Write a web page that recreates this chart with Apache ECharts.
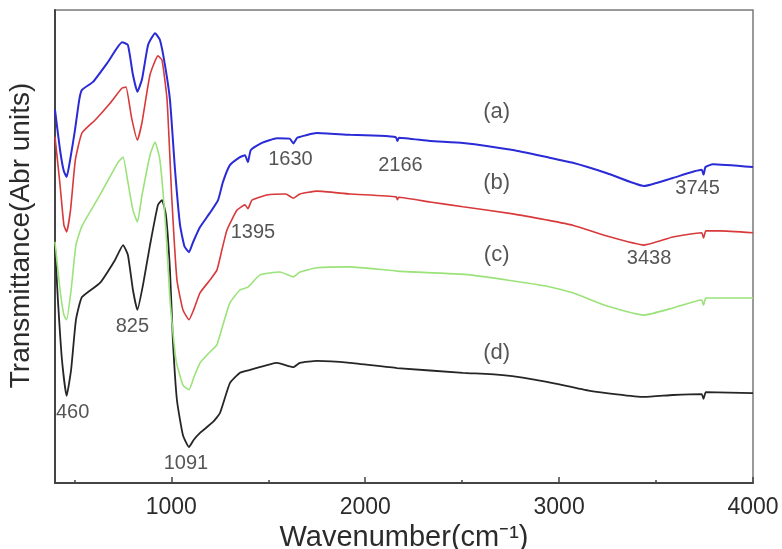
<!DOCTYPE html>
<html>
<head>
<meta charset="utf-8">
<title>FTIR spectra</title>
<script src="https://cdn.jsdelivr.net/npm/echarts@6/dist/echarts.min.js"></script>
<style>
  html, body { margin: 0; padding: 0; background: #fff; }
  #chart { width: 782px; height: 549px; }
</style>
</head>
<body>
<div id="chart"></div>
<script>
// Wavenumber (cm^-1) / transmittance (arbitrary units) pairs for each sample
const spectrumA = [[400,78.9],[426,70.4],[445,66.0],[460,64.7],[478,68.3],[503,74.6],[525,81.0],[539,83.1],[596,84.8],[673,89.0],[746,93.2],[776,92.6],[802,86.3],[825,82.7],[849,85.4],[880,92.6],[916,95.1],[941,93.7],[967,88.4],[993,81.0],[1019,66.2],[1045,54.5],[1068,50.0],[1091,48.8],[1112,50.9],[1148,54.1],[1199,57.1],[1241,59.8],[1266,63.6],[1302,67.2],[1354,68.9],[1380,69.3],[1395,67.8],[1410,70.4],[1467,71.9],[1545,72.9],[1610,72.8],[1630,71.8],[1650,73.0],[1751,74.0],[1921,73.6],[2076,73.4],[2158,73.1],[2166,72.3],[2174,73.0],[2334,72.3],[2504,71.9],[2762,70.4],[2937,68.9],[3071,67.7],[3247,65.5],[3438,62.8],[3587,64.5],[3735,66.2],[3745,65.2],[3755,66.8],[3793,67.4],[4000,66.8]];
const spectrumB = [[400,73.2],[426,63.0],[446,54.5],[460,53.1],[480,57.7],[505,68.3],[539,74.0],[606,76.7],[684,80.3],[746,83.5],[766,83.7],[795,77.2],[825,72.5],[849,76.3],[890,86.3],[931,90.3],[952,89.4],[978,81.0],[1003,59.8],[1029,42.9],[1060,36.6],[1091,34.5],[1115,36.6],[1148,40.2],[1199,42.9],[1235,45.0],[1261,49.3],[1287,53.5],[1339,57.7],[1380,58.8],[1395,58.0],[1416,59.8],[1493,60.9],[1590,61.1],[1630,60.2],[1663,61.1],[1751,61.7],[1921,61.1],[2160,60.5],[2166,59.9],[2172,60.4],[2334,59.4],[2504,58.4],[2762,56.9],[2937,55.6],[3071,54.5],[3247,52.2],[3438,50.3],[3587,52.0],[3735,52.9],[3745,51.8],[3757,53.3],[3829,53.3],[4000,52.9]];
const spectrumC = [[400,51.0],[426,40.8],[446,35.5],[460,34.5],[483,40.8],[508,50.3],[539,54.3],[632,60.9],[725,67.8],[751,68.9],[776,63.6],[802,57.7],[825,55.2],[849,60.9],[890,69.3],[916,72.1],[941,68.3],[972,53.5],[993,38.7],[1024,26.0],[1060,20.7],[1091,19.7],[1115,22.2],[1148,25.4],[1199,27.7],[1235,29.2],[1266,33.4],[1302,38.1],[1354,40.8],[1395,41.4],[1457,44.0],[1560,44.6],[1630,43.6],[1663,44.6],[1751,45.5],[1921,45.7],[2164,44.8],[2540,44.0],[2937,41.6],[3071,40.2],[3247,37.4],[3438,35.5],[3587,37.0],[3735,38.7],[3745,37.6],[3757,39.1],[4000,39.1]];
const spectrumD = [[400,50.1],[415,38.7],[436,26.0],[460,18.4],[483,23.9],[508,34.5],[539,39.3],[632,42.3],[709,47.1],[751,50.3],[776,48.2],[802,40.8],[825,36.6],[854,41.9],[890,50.3],[931,58.8],[952,59.8],[972,56.7],[993,45.0],[1008,30.2],[1029,17.5],[1060,10.1],[1091,7.6],[1115,9.1],[1148,10.6],[1215,12.9],[1251,14.8],[1302,21.1],[1354,23.3],[1406,23.9],[1545,25.4],[1630,24.5],[1663,25.4],[1751,25.8],[1921,25.4],[2164,24.3],[2504,23.3],[2710,22.8],[2937,21.4],[3159,19.5],[3438,18.2],[3587,18.6],[3735,18.8],[3745,17.8],[3757,19.2],[4000,19.0]];

const sampleNames = ['(a)', '(b)', '(c)', '(d)'];
const xTickValues = [1000, 2000, 3000, 4000];
const xMinorTickValues = [500, 1500, 2500, 3500];
// Band positions that are marked on the spectra (cm^-1)
const bandPositions = [460, 825, 1091, 1395, 1630, 2166, 3438, 3745];

const spectra = [spectrumA, spectrumB, spectrumC, spectrumD];
const colors = ['#2a2ad6', '#d8393b', '#9be27a', '#262626'];
const widths = [2, 1.6, 1.6, 1.8];

// Linear interpolation of a spectrum at a given wavenumber
function valueAt(spec, wn) {
  for (let i = 1; i < spec.length; i++) {
    if (spec[i][0] >= wn) {
      const [x0, y0] = spec[i - 1], [x1, y1] = spec[i];
      return y0 + (y1 - y0) * (wn - x0) / (x1 - x0);
    }
  }
  return spec[spec.length - 1][1];
}

// Which curve each band label sits on, and its pixel offset from that point
const bandLabelPlacement = [
  { s: 3, dx: 6, dy: 17 },   // 460
  { s: 3, dx: -5, dy: 17 },  // 825
  { s: 3, dx: -3, dy: 16 },  // 1091
  { s: 1, dx: 5, dy: 24 },   // 1395
  { s: 0, dx: -3, dy: 16 },  // 1630
  { s: 0, dx: 3, dy: 24 },   // 2166
  { s: 1, dx: 5, dy: 13 },   // 3438
  { s: 0, dx: -6, dy: 14 }   // 3745
];
const sampleLabelAt = 2678;
const sampleLabelDy = [-36, -29, -24, -22];

const textColor = '#2b2b2b';
const font = 'Liberation Sans, Arial, sans-serif';

const annotationData = [];
bandPositions.forEach((wn, i) => {
  const p = bandLabelPlacement[i];
  annotationData.push({
    value: [wn, valueAt(spectra[p.s], wn)],
    label: { formatter: String(wn), offset: [p.dx, p.dy], fontSize: 20 }
  });
});
sampleNames.forEach((name, i) => {
  annotationData.push({
    value: [sampleLabelAt, valueAt(spectra[i], sampleLabelAt)],
    label: { formatter: name, offset: [0, sampleLabelDy[i]], fontSize: 22 }
  });
});

const chart = echarts.init(document.getElementById('chart'), null, { renderer: 'canvas' });

const series = spectra.map((spec, i) => ({
  name: sampleNames[i],
  type: 'line',
  data: spec,
  showSymbol: false,
  symbol: 'none',
  smooth: 0.15,
  lineStyle: { color: colors[i], width: widths[i] },
  z: 4 - i,
  animation: false
}));

series.push({
  type: 'scatter',
  data: annotationData,
  symbolSize: 0,
  silent: true,
  z: 10,
  label: {
    show: true,
    position: 'inside',
    color: textColor,
    fontFamily: font
  },
  animation: false
});

chart.setOption({
  backgroundColor: '#fff',
  animation: false,
  grid: {
    left: 55, right: 29, top: 10, bottom: 66,
    outerBoundsMode: 'none',
    containLabel: false,
    show: true, borderColor: '#7a7a7a', borderWidth: 1.5, backgroundColor: 'transparent'
  },
  xAxis: [{
    type: 'value',
    min: 400, max: 4000,
    name: 'Wavenumber(cm⁻¹)',
    nameLocation: 'middle',
    nameGap: 31,
    nameTextStyle: { fontSize: 29, color: textColor, fontFamily: font },
    axisLine: { show: true, onZero: false, lineStyle: { color: '#444', width: 2 } },
    axisTick: { show: true, inside: true, length: 6, customValues: xTickValues, lineStyle: { color: '#444', width: 1.5 } },
    axisLabel: {
      show: true, customValues: xTickValues, margin: 13, fontSize: 23, color: textColor, fontFamily: font,
      formatter: v => String(v)
    },
    splitLine: { show: false }
  }, {
    type: 'value',
    min: 400, max: 4000,
    position: 'bottom',
    axisLine: { show: false },
    axisTick: { show: true, inside: true, length: 3, customValues: xMinorTickValues, lineStyle: { color: '#444', width: 1.5 } },
    axisLabel: { show: false },
    splitLine: { show: false }
  }],
  yAxis: {
    type: 'value',
    min: 0, max: 100,
    name: 'Transmittance(Abr units)',
    nameLocation: 'middle',
    nameGap: 20,
    nameTextStyle: { fontSize: 28, color: textColor, fontFamily: font, padding: [0, 0, 0, 22] },
    axisLine: { show: true, lineStyle: { color: '#444', width: 2 } },
    axisTick: { show: false },
    axisLabel: { show: false },
    splitLine: { show: false }
  },
  series: series
});
</script>
</body>
</html>
